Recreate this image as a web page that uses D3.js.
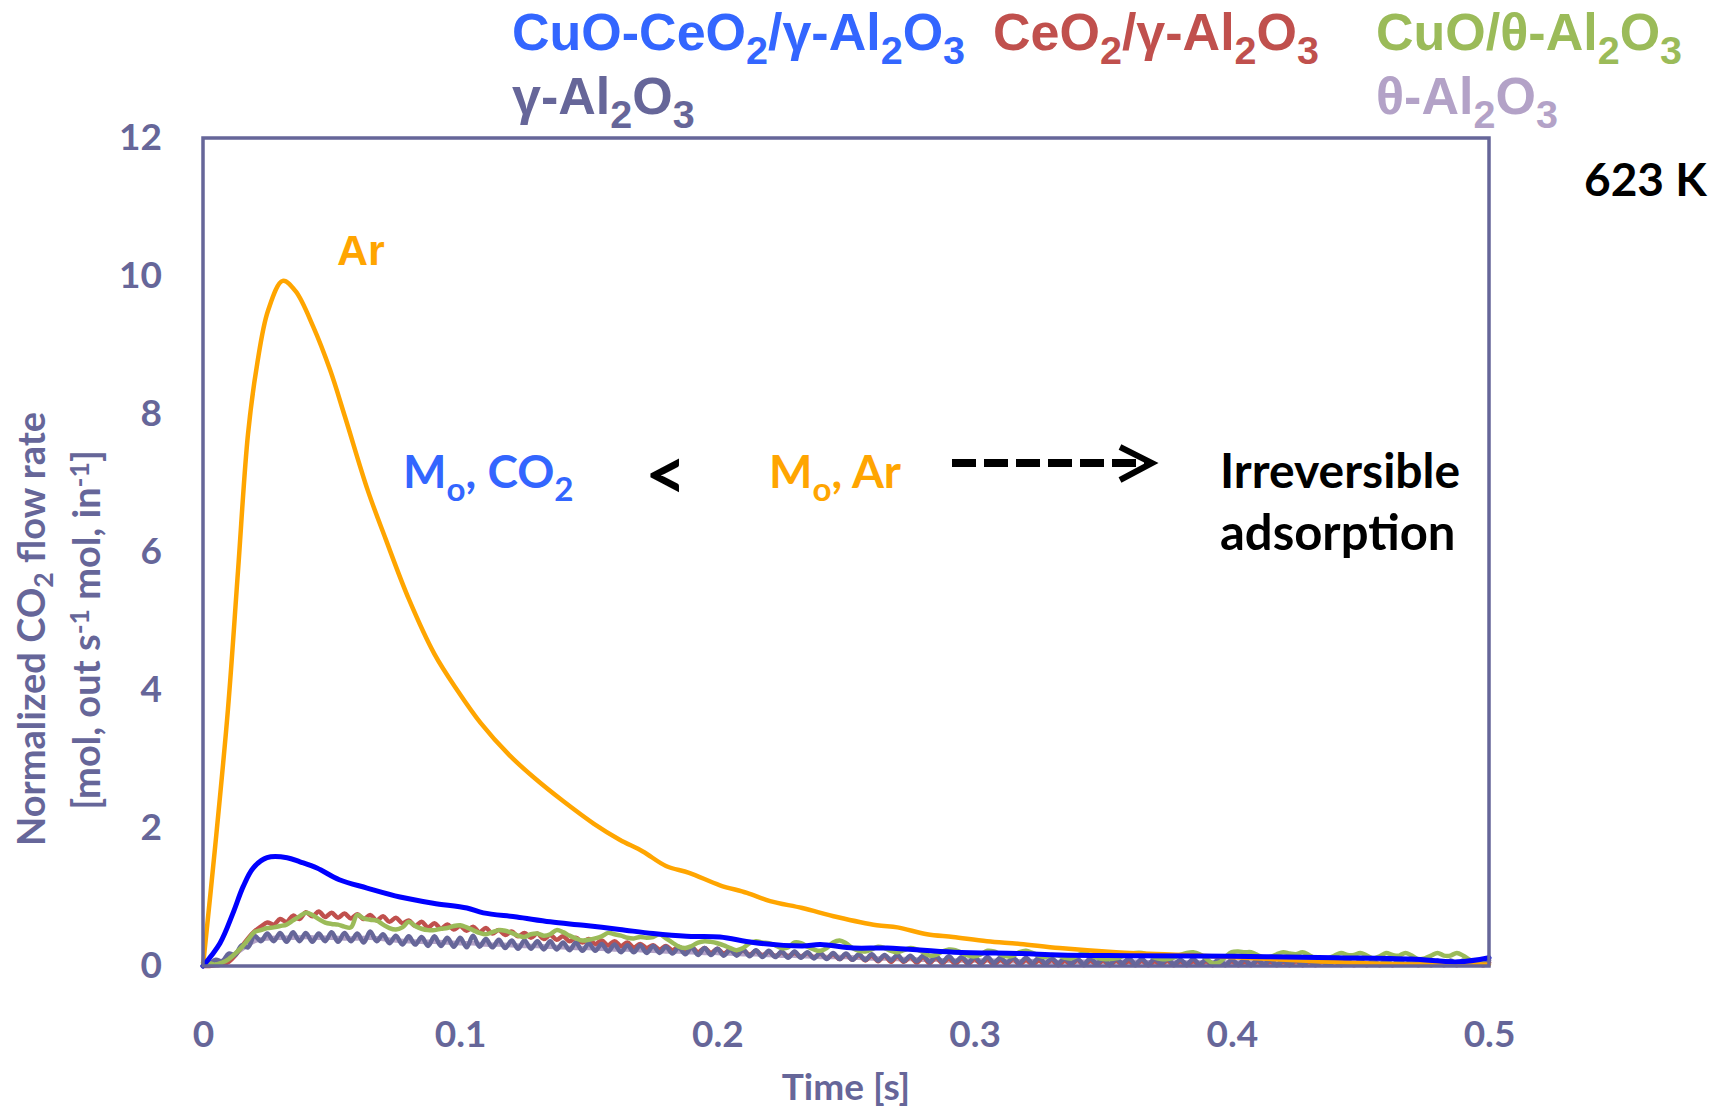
<!DOCTYPE html>
<html lang="en">
<head>
<meta charset="UTF-8">
<title>CO2 pulse response at 623 K</title>
<script src="https://d3js.org/d3.v7.min.js"></script>
<style>
  body { margin: 0; background: #fff; }
  svg { display: block; }
</style>
</head>
<body>
<svg width="1720" height="1112"></svg>
<script>
    // ---- data ----
    const xTicks = [0, 0.1, 0.2, 0.3, 0.4, 0.5];
    const yTicks = [0, 2, 4, 6, 8, 10, 12];

    // smooth curves as [time s, value]
    const arPulse = [[0,0],[0.0047,1.72],[0.0097,3.72],[0.0136,5.72],[0.0175,7.71],[0.021,8.71],[0.0253,9.5],
        [0.031,9.93],[0.036,9.78],[0.0428,9.27],[0.0494,8.64],[0.0552,7.96],[0.064,6.9],[0.071,6.19],[0.08,5.32],
        [0.09,4.52],[0.099,3.99],[0.108,3.52],[0.119,3.06],[0.129,2.72],[0.14,2.39],[0.152,2.06],[0.162,1.83],
        [0.171,1.66],[0.18,1.45],[0.189,1.35],[0.201,1.17],[0.2115,1.06],[0.2205,0.94],[0.233,0.84],[0.2465,0.71],
        [0.262,0.59],[0.27,0.56],[0.2815,0.46],[0.2916,0.42],[0.3048,0.36],[0.3177,0.32],[0.333,0.26],[0.355,0.2],
        [0.388,0.15],[0.433,0.07],[0.46,0.03],[0.5,0.02]];

    const cuoCeo2 = [[0,0],[0.0066,0.33],[0.0117,0.77],[0.0156,1.15],[0.0195,1.42],[0.0249,1.57],[0.0327,1.57],
        [0.0377,1.51],[0.0443,1.42],[0.053,1.25],[0.0638,1.13],[0.0766,1.0],[0.0895,0.91],[0.1026,0.84],[0.109,0.77],
        [0.122,0.71],[0.135,0.64],[0.148,0.59],[0.162,0.53],[0.175,0.47],[0.188,0.43],[0.201,0.42],[0.214,0.34],
        [0.233,0.29],[0.24,0.31],[0.253,0.26],[0.266,0.26],[0.292,0.2],[0.318,0.18],[0.333,0.16],[0.36,0.15],
        [0.4,0.14],[0.44,0.12],[0.47,0.1],[0.488,0.06],[0.5,0.12]];

    // noisy signals, one sample every 2.5 ms from t = 0
    const sampleStep = 0.0025;
    const ceo2 = [
        0.00,0.00,0.01,0.02,0.06,0.15,0.28,0.40,0.50,0.57,   // 0
        0.63,0.60,0.68,0.64,0.73,0.68,0.78,0.72,0.79,0.71,   // 10
        0.77,0.70,0.76,0.69,0.75,0.68,0.74,0.66,0.72,0.64,   // 20
        0.70,0.62,0.66,0.58,0.64,0.56,0.62,0.54,0.60,0.53,   // 30
        0.58,0.51,0.57,0.49,0.55,0.47,0.52,0.45,0.50,0.43,   // 40
        0.48,0.41,0.47,0.39,0.45,0.38,0.43,0.36,0.41,0.34,   // 50
        0.39,0.32,0.37,0.30,0.36,0.29,0.34,0.27,0.32,0.26,   // 60
        0.30,0.24,0.29,0.23,0.28,0.21,0.27,0.20,0.26,0.19,   // 70
        0.25,0.18,0.24,0.17,0.23,0.16,0.22,0.15,0.21,0.14,   // 80
        0.20,0.14,0.19,0.13,0.19,0.12,0.18,0.11,0.17,0.10,   // 90
        0.17,0.09,0.16,0.08,0.15,0.07,0.15,0.06,0.14,0.06,   // 100
        0.13,0.05,0.13,0.04,0.12,0.04,0.11,0.03,0.11,0.03,   // 110
        0.10,0.03,0.10,0.02,0.09,0.03,0.10,0.02,0.09,0.02,   // 120
        0.08,0.02,0.09,0.01,0.08,0.02,0.09,0.01,0.08,0.02,   // 130
        0.08,0.01,0.08,0.02,0.07,0.01,0.08,0.01,0.07,0.02,   // 140
        0.08,0.01,0.07,0.01,0.07,0.02,0.07,0.01,0.06,0.01,   // 150
        0.07,0.01,0.06,0.01,0.07,0.02,0.06,0.01,0.06,0.01,   // 160
        0.07,0.01,0.06,0.01,0.06,0.02,0.06,0.01,0.05,0.01,   // 170
        0.06,0.01,0.05,0.01,0.06,0.01,0.05,0.02,0.05,0.01,   // 180
        0.06,0.01,0.05,0.01,0.05,0.01,0.06,0.02,0.05,0.01,   // 190
        0.05];                                               // 200

    const gammaAl2o3 = [
        0.00,0.03,0.09,0.07,0.18,0.16,0.30,0.27,0.44,0.36,   // 0
        0.47,0.36,0.48,0.35,0.49,0.36,0.48,0.35,0.47,0.36,   // 10
        0.49,0.35,0.48,0.36,0.47,0.34,0.50,0.36,0.46,0.33,   // 20
        0.44,0.31,0.43,0.31,0.42,0.29,0.43,0.29,0.41,0.28,   // 30
        0.41,0.27,0.44,0.28,0.39,0.27,0.38,0.26,0.37,0.25,   // 40
        0.37,0.25,0.36,0.24,0.36,0.24,0.34,0.23,0.34,0.22,   // 50
        0.33,0.22,0.32,0.21,0.31,0.20,0.30,0.20,0.30,0.19,   // 60
        0.29,0.19,0.28,0.18,0.27,0.17,0.27,0.16,0.26,0.16,   // 70
        0.25,0.15,0.24,0.15,0.24,0.14,0.23,0.13,0.22,0.13,   // 80
        0.21,0.12,0.21,0.12,0.20,0.11,0.19,0.10,0.19,0.10,   // 90
        0.18,0.09,0.17,0.09,0.17,0.08,0.16,0.08,0.16,0.07,   // 100
        0.15,0.07,0.15,0.06,0.14,0.06,0.14,0.06,0.13,0.05,   // 110
        0.13,0.05,0.13,0.05,0.12,0.05,0.12,0.04,0.12,0.04,   // 120
        0.12,0.04,0.11,0.04,0.11,0.04,0.10,0.03,0.11,0.04,   // 130
        0.10,0.03,0.10,0.04,0.11,0.03,0.10,0.03,0.10,0.04,   // 140
        0.10,0.03,0.09,0.03,0.10,0.03,0.09,0.03,0.10,0.02,   // 150
        0.09,0.03,0.09,0.02,0.09,0.03,0.09,0.02,0.08,0.03,   // 160
        0.09,0.02,0.08,0.02,0.09,0.02,0.08,0.03,0.08,0.02,   // 170
        0.08,0.02,0.08,0.02,0.09,0.02,0.08,0.02,0.08,0.03,   // 180
        0.08,0.02,0.08,0.02,0.08,0.03,0.08,0.02,0.07,0.03,   // 190
        0.08];                                               // 200

    const cuoTheta = [
        0.05,0.04,0.02,0.05,0.10,0.18,0.27,0.38,0.49,0.52,   // 0
        0.55,0.56,0.58,0.60,0.66,0.72,0.77,0.74,0.68,0.63,   // 10
        0.61,0.60,0.57,0.56,0.74,0.69,0.67,0.66,0.60,0.55,   // 20
        0.53,0.56,0.64,0.58,0.54,0.52,0.52,0.54,0.55,0.58,   // 30
        0.59,0.56,0.52,0.48,0.46,0.49,0.52,0.51,0.48,0.44,   // 40
        0.42,0.46,0.47,0.44,0.46,0.52,0.49,0.44,0.40,0.37,   // 50
        0.38,0.40,0.43,0.48,0.46,0.44,0.41,0.40,0.42,0.41,   // 60
        0.42,0.46,0.40,0.34,0.28,0.26,0.29,0.34,0.36,0.35,   // 70
        0.33,0.30,0.26,0.23,0.26,0.33,0.36,0.34,0.33,0.30,   // 80
        0.26,0.27,0.34,0.33,0.28,0.24,0.22,0.26,0.34,0.37,   // 90
        0.33,0.26,0.22,0.21,0.24,0.28,0.26,0.22,0.20,0.23,   // 100
        0.26,0.24,0.20,0.15,0.16,0.21,0.24,0.23,0.19,0.15,   // 110
        0.14,0.17,0.22,0.21,0.17,0.14,0.15,0.20,0.22,0.19,   // 120
        0.15,0.13,0.16,0.15,0.12,0.11,0.15,0.19,0.16,0.12,   // 130
        0.10,0.10,0.11,0.14,0.17,0.19,0.19,0.16,0.12,0.10,   // 140
        0.10,0.12,0.16,0.19,0.20,0.17,0.11,0.04,0.05,0.13,   // 150
        0.20,0.21,0.20,0.20,0.16,0.12,0.13,0.17,0.20,0.18,   // 160
        0.17,0.20,0.16,0.11,0.09,0.11,0.15,0.19,0.16,0.16,   // 170
        0.19,0.15,0.11,0.14,0.19,0.16,0.15,0.19,0.15,0.10,   // 180
        0.11,0.15,0.19,0.15,0.15,0.19,0.15,0.09,0.06,0.09,   // 190
        0.12];                                               // 200

    // theta-alumina, one sample every 5 ms (mostly hidden under gamma-alumina)
    const thetaStep = 0.005;
    const thetaAl2o3 = [
        0.00,0.04,0.12,0.24,0.36,0.40,0.41,0.41,0.42,0.41,
        0.41,0.40,0.40,0.41,0.39,0.37,0.36,0.35,0.35,0.34,
        0.33,0.33,0.31,0.31,0.30,0.29,0.29,0.28,0.27,0.26,
        0.26,0.25,0.24,0.24,0.23,0.22,0.21,0.21,0.20,0.19,
        0.19,0.18,0.17,0.17,0.16,0.15,0.15,0.14,0.13,0.13,
        0.13,0.12,0.11,0.11,0.10,0.10,0.09,0.09,0.08,0.08,
        0.08,0.08,0.07,0.07,0.07,0.07,0.06,0.06,0.06,0.06,
        0.06,0.06,0.06,0.06,0.05,0.05,0.05,0.05,0.05,0.05,
        0.05,0.05,0.05,0.05,0.05,0.05,0.05,0.05,0.05,0.05,
        0.05,0.05,0.05,0.05,0.05,0.05,0.05,0.05,0.05,0.05,
        0.05];

    // ---- layout ----
    const width = 1720, height = 1112;
    const plot = {left: 203, right: 1489, top: 138, bottom: 966};
    const axisColor = '#666699';
    const numFont = 'Lato, "Open Sans", "DejaVu Sans", sans-serif';
    const arialFont = '"Liberation Sans", Arial, sans-serif';

    const svg = d3.select('svg')
        .attr('width', width)
        .attr('height', height)
        .attr('viewBox', `0 0 ${width} ${height}`);

    svg.append('rect').attr('width', width).attr('height', height).attr('fill', '#fff');

    const x = d3.scaleLinear().domain([0, 0.5]).range([plot.left, plot.right]);
    const y = d3.scaleLinear().domain([0, 12]).range([plot.bottom, plot.top]);

    // axes: labels only, frame drawn separately
    const yAxis = svg.append('g')
        .attr('transform', `translate(${plot.left},0)`)
        .call(d3.axisLeft(y).tickValues(yTicks).tickSize(0).tickPadding(41).tickFormat(d3.format('d')));
    const xAxis = svg.append('g')
        .attr('transform', `translate(0,${plot.bottom})`)
        .call(d3.axisBottom(x).tickValues(xTicks).tickSize(0).tickPadding(55).tickFormat(d3.format('')));
    [yAxis, xAxis].forEach(function(g) {
        g.select('.domain').remove();
        g.selectAll('text')
            .attr('fill', axisColor)
            .style('font-family', numFont)
            .style('font-weight', 700)
            .style('font-size', '37px');
    });

    // lines
    const lineSmooth = d3.line()
        .x(function(d) { return x(d[0]); })
        .y(function(d) { return y(d[1]); })
        .curve(d3.curveCatmullRom.alpha(0.5));
    const lineNoisy = function(step) {
        return d3.line()
            .x(function(d, i) { return x(i * step); })
            .y(function(d) { return y(d); })
            .curve(d3.curveCatmullRom.alpha(0.5));
    };

    const plotArea = svg.append('g')
        .attr('fill', 'none')
        .attr('stroke-linejoin', 'round')
        .attr('stroke-linecap', 'round');
    plotArea.append('path').datum(thetaAl2o3).attr('d', lineNoisy(thetaStep))
        .attr('stroke', '#B3A2C7').attr('stroke-width', 4.5);
    plotArea.append('path').datum(ceo2).attr('d', lineNoisy(sampleStep))
        .attr('stroke', '#C0504D').attr('stroke-width', 4.5);
    plotArea.append('path').datum(gammaAl2o3).attr('d', lineNoisy(sampleStep))
        .attr('stroke', '#666699').attr('stroke-width', 4.5);
    plotArea.append('path').datum(cuoTheta).attr('d', lineNoisy(sampleStep))
        .attr('stroke', '#9BBB59').attr('stroke-width', 4.5);
    plotArea.append('path').datum(arPulse).attr('d', lineSmooth)
        .attr('stroke', '#FFA500').attr('stroke-width', 4.5);
    plotArea.append('path').datum(cuoCeo2).attr('d', lineSmooth)
        .attr('stroke', '#0000FF').attr('stroke-width', 5);

    // plot frame
    svg.append('rect')
        .attr('x', plot.left).attr('y', plot.top)
        .attr('width', plot.right - plot.left).attr('height', plot.bottom - plot.top)
        .attr('fill', 'none').attr('stroke', axisColor).attr('stroke-width', 3.5);

    // text with sub/superscripts: parts = [[text, 'n'|'sub'|'sup'], ...]
    function richText(g, parts, size, smallRatio, shift) {
        const small = size * smallRatio;
        let offset = 0;
        parts.forEach(function(p) {
            const ts = g.append('tspan').text(p[0]);
            let target = 0;
            if (p[1] === 'sub') { ts.style('font-size', small + 'px'); target = shift; }
            else if (p[1] === 'sup') { ts.style('font-size', small + 'px'); target = -shift * 1.4; }
            if (target !== offset) { ts.attr('dy', target - offset); offset = target; }
        });
        return g;
    }
    function label(px, py, parts, opts) {
        const t = svg.append('text')
            .attr('x', px).attr('y', py)
            .attr('fill', opts.color)
            .attr('text-anchor', opts.anchor || 'start')
            .style('font-family', opts.font)
            .style('font-weight', 700)
            .style('font-size', opts.size + 'px');
        if (opts.rotate) t.attr('transform', `rotate(${opts.rotate},${px},${py})`);
        return richText(t, parts, opts.size, opts.ratio || 0.72, opts.shift || opts.size * 0.24);
    }

    // legend (series names)
    const legendSize = 52;
    const legendOpts = function(color) {
        return {color: color, font: arialFont, size: legendSize, ratio: 0.76, shift: 14};
    };
    label(512, 50, [['CuO-CeO', 'n'], ['2', 'sub'], ['/γ-Al', 'n'], ['2', 'sub'], ['O', 'n'], ['3', 'sub']],
        legendOpts('#3366FF'));
    label(993, 50, [['CeO', 'n'], ['2', 'sub'], ['/γ-Al', 'n'], ['2', 'sub'], ['O', 'n'], ['3', 'sub']],
        legendOpts('#C0504D'));
    label(1376, 50, [['CuO/θ-Al', 'n'], ['2', 'sub'], ['O', 'n'], ['3', 'sub']],
        legendOpts('#9BBB59'));
    label(512, 114, [['γ-Al', 'n'], ['2', 'sub'], ['O', 'n'], ['3', 'sub']],
        legendOpts('#666699'));
    label(1376, 114, [['θ-Al', 'n'], ['2', 'sub'], ['O', 'n'], ['3', 'sub']],
        legendOpts('#B3A2C7'));

    // in-plot annotations
    label(337, 265, [['Ar', 'n']], {color: '#FFA500', font: arialFont, size: 43});
    label(1584, 196, [['623 K', 'n']], {color: '#000', font: numFont, size: 46});
    label(403, 488, [['M', 'n'], ['o', 'sub'], [', CO', 'n'], ['2', 'sub']],
        {color: '#3366FF', font: numFont, size: 46, ratio: 0.72, shift: 13});
    label(645, 500, [['<', 'n']], {color: '#000', font: numFont, size: 72});
    label(769, 488, [['M', 'n'], ['o', 'sub'], [', Ar', 'n']],
        {color: '#FFA500', font: numFont, size: 46, ratio: 0.72, shift: 13});
    label(1220, 488, [['Irreversible', 'n']], {color: '#000', font: numFont, size: 48});
    label(1220, 550, [['adsorption', 'n']], {color: '#000', font: numFont, size: 49});

    // dashed arrow
    svg.append('line')
        .attr('x1', 952).attr('y1', 463).attr('x2', 1146).attr('y2', 463)
        .attr('stroke', '#000').attr('stroke-width', 8).attr('stroke-dasharray', '24,8');
    svg.append('path')
        .attr('d', 'M1120,447 L1152,463 L1120,480')
        .attr('fill', 'none').attr('stroke', '#000').attr('stroke-width', 6)
        .attr('stroke-linejoin', 'miter');

    // axis titles
    label(846, 1100, [['Time [s]', 'n']], {color: axisColor, font: numFont, size: 37, anchor: 'middle'});
    label(45, 629, [['Normalized CO', 'n'], ['2', 'sub'], [' flow rate', 'n']],
        {color: axisColor, font: numFont, size: 38, anchor: 'middle', rotate: -90, ratio: 0.7, shift: 8});
    label(100, 630, [['[mol, out s', 'n'], ['-1', 'sup'], [' mol, in', 'n'], ['-1', 'sup'], [']', 'n']],
        {color: axisColor, font: numFont, size: 38, anchor: 'middle', rotate: -90, ratio: 0.7, shift: 8});
</script>
</body>
</html>
